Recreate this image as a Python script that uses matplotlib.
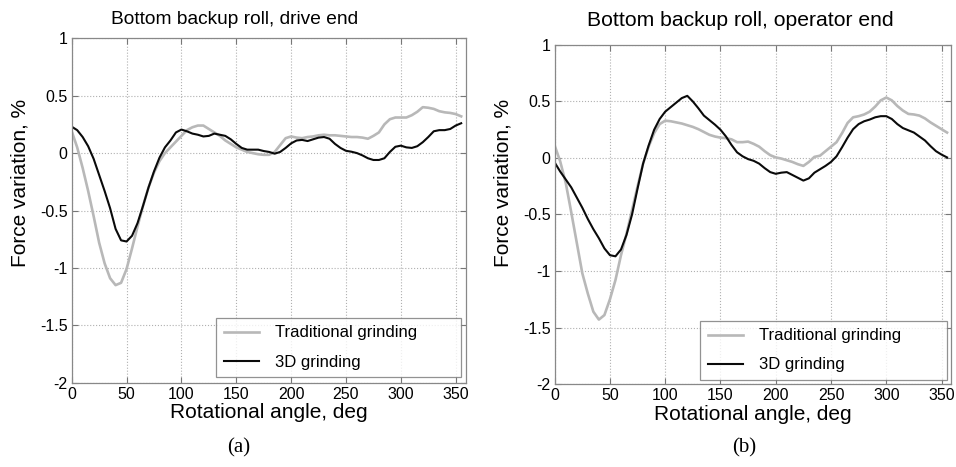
import matplotlib
matplotlib.use("Agg")
import matplotlib.pyplot as plt
import numpy as np

plt.rcParams['font.family'] = ['Liberation Sans', 'DejaVu Sans']

# rotational angle, deg
angle = np.arange(0, 360, 5)

# drive end force variation, %
drive_traditional = [
    0.19, 0.05, -0.13, -0.33, -0.55, -0.78, -0.96, -1.09, -1.15, -1.13,
    -1.01, -0.83, -0.64, -0.46, -0.30, -0.17, -0.07, 0.00, 0.05, 0.10,
    0.15, 0.20, 0.225, 0.24, 0.24, 0.21, 0.18, 0.15, 0.11, 0.08,
    0.05, 0.03, 0.01, 0.00, -0.01, -0.015, -0.015, 0.01, 0.07, 0.13,
    0.145, 0.135, 0.13, 0.14, 0.145, 0.155, 0.16, 0.155, 0.155, 0.15,
    0.145, 0.14, 0.14, 0.135, 0.125, 0.15, 0.18, 0.25, 0.295, 0.31,
    0.31, 0.31, 0.33, 0.36, 0.40, 0.395, 0.385, 0.365, 0.355, 0.35,
    0.34, 0.32]
drive_3d = [
    0.23, 0.20, 0.14, 0.06, -0.05, -0.19, -0.33, -0.48, -0.66, -0.76,
    -0.77, -0.72, -0.61, -0.46, -0.30, -0.16, -0.04, 0.05, 0.11, 0.18,
    0.205, 0.19, 0.17, 0.16, 0.145, 0.15, 0.17, 0.16, 0.15, 0.12,
    0.08, 0.045, 0.03, 0.03, 0.03, 0.018, 0.01, -0.005, 0.01, 0.045,
    0.085, 0.11, 0.115, 0.105, 0.12, 0.135, 0.14, 0.125, 0.08, 0.045,
    0.02, 0.012, 0.0, -0.02, -0.045, -0.06, -0.06, -0.045, 0.01, 0.055,
    0.065, 0.05, 0.045, 0.06, 0.095, 0.14, 0.19, 0.20, 0.20, 0.21,
    0.24, 0.26]

# operator end force variation, %
oper_traditional = [
    0.11, -0.03, -0.22, -0.48, -0.75, -1.02, -1.20, -1.36, -1.43, -1.39,
    -1.25, -1.08, -0.86, -0.67, -0.46, -0.25, -0.05, 0.10, 0.22, 0.30,
    0.33, 0.325, 0.315, 0.305, 0.29, 0.275, 0.255, 0.23, 0.205, 0.19,
    0.18, 0.175, 0.165, 0.14, 0.14, 0.145, 0.125, 0.10, 0.06, 0.025,
    0.005, -0.005, -0.02, -0.035, -0.055, -0.07, -0.035, 0.01, 0.02, 0.06,
    0.10, 0.14, 0.22, 0.31, 0.36, 0.37, 0.385, 0.41, 0.455, 0.51,
    0.535, 0.51, 0.46, 0.42, 0.39, 0.385, 0.375, 0.35, 0.315, 0.285,
    0.255, 0.225]
oper_3d = [
    -0.04, -0.12, -0.19, -0.26, -0.35, -0.44, -0.54, -0.63, -0.71, -0.80,
    -0.86, -0.87, -0.81, -0.68, -0.50, -0.27, -0.05, 0.11, 0.25, 0.345,
    0.41, 0.45, 0.49, 0.53, 0.55, 0.50, 0.44, 0.375, 0.335, 0.295,
    0.25, 0.19, 0.115, 0.05, 0.015, -0.01, -0.025, -0.05, -0.09, -0.125,
    -0.14, -0.13, -0.125, -0.15, -0.175, -0.20, -0.18, -0.13, -0.10, -0.07,
    -0.035, 0.015, 0.095, 0.18, 0.255, 0.30, 0.325, 0.34, 0.36, 0.37,
    0.37, 0.345, 0.30, 0.265, 0.245, 0.225, 0.19, 0.155, 0.105, 0.06,
    0.03, 0.005]

panels = [
    dict(rect=[0.075, 0.1805, 0.412, 0.7375], xmax=359,
         title="Bottom backup roll, drive end", title_x=235, title_y=19,
         title_size=13.8, tag="(a)",
         trad=drive_traditional, d3=drive_3d, ylab_x=20,
         leg=(216, 317, 245, 60)),
    dict(rect=[0.5802, 0.1777, 0.4145, 0.726], xmax=358.5,
         title="Bottom backup roll, operator end", title_x=740, title_y=21,
         title_size=15.2, tag="(b)",
         trad=oper_traditional, d3=oper_3d, ylab_x=503,
         leg=(700, 322, 247, 58)),
]

W, H = 956, 467
fig = plt.figure(figsize=(W / 100, H / 100), dpi=100)

for p in panels:
    ax = fig.add_axes(p['rect'])
    ax.plot(angle, p['trad'], color='#b8b8b8', lw=1.9, label='Traditional grinding')
    ax.plot(angle, p['d3'], color='#0a0a0a', lw=1.5, label='3D grinding')
    ax.set_xlim(0, p['xmax'])
    ax.set_ylim(-2, 1)
    ax.set_xticks(np.arange(0, 351, 50))
    ax.set_yticks([-2, -1.5, -1, -0.5, 0, 0.5, 1])
    ax.set_yticklabels(['-2', '-1.5', '-1', '-0.5', '0', '0.5', '1'])
    ax.grid(True, ls=':', color='#b0b0b0', lw=0.8)
    ax.tick_params(direction='in', length=4, width=0.8, color='#777777',
                   top=True, right=True, labelsize=11.5, pad=3)
    for s in ax.spines.values():
        s.set_color('#888888')
        s.set_linewidth(0.9)
    ax.set_xlabel('Rotational angle, deg', fontsize=15, labelpad=1)

    # legend box placed in pixel coordinates
    lx, ly, lw_, lh = p['leg']
    bbox = (lx / W, 1 - (ly + lh) / H, lw_ / W, lh / H)
    leg = ax.legend(loc='lower left', bbox_to_anchor=bbox,
                    bbox_transform=fig.transFigure, mode='expand',
                    fontsize=12, frameon=True, fancybox=False,
                    borderaxespad=0, handlelength=2.1, handletextpad=1.0,
                    labelspacing=0.85, borderpad=0.45)
    leg.get_frame().set_edgecolor('#777777')
    leg.get_frame().set_linewidth(0.9)

    fig.text(p['title_x'] / W, 1 - p['title_y'] / H, p['title'],
             fontsize=p['title_size'], ha='center', va='center')
    fig.text(p['ylab_x'] / W, 1 - 183 / H, 'Force variation, %', fontsize=15,
             rotation=90, ha='center', va='center')
    fig.text((p['title_x'] + 4) / W, 1 - 448 / H, p['tag'], fontsize=15,
             family='Liberation Serif', ha='center', va='center')

fig.savefig('out.png', dpi=100)
